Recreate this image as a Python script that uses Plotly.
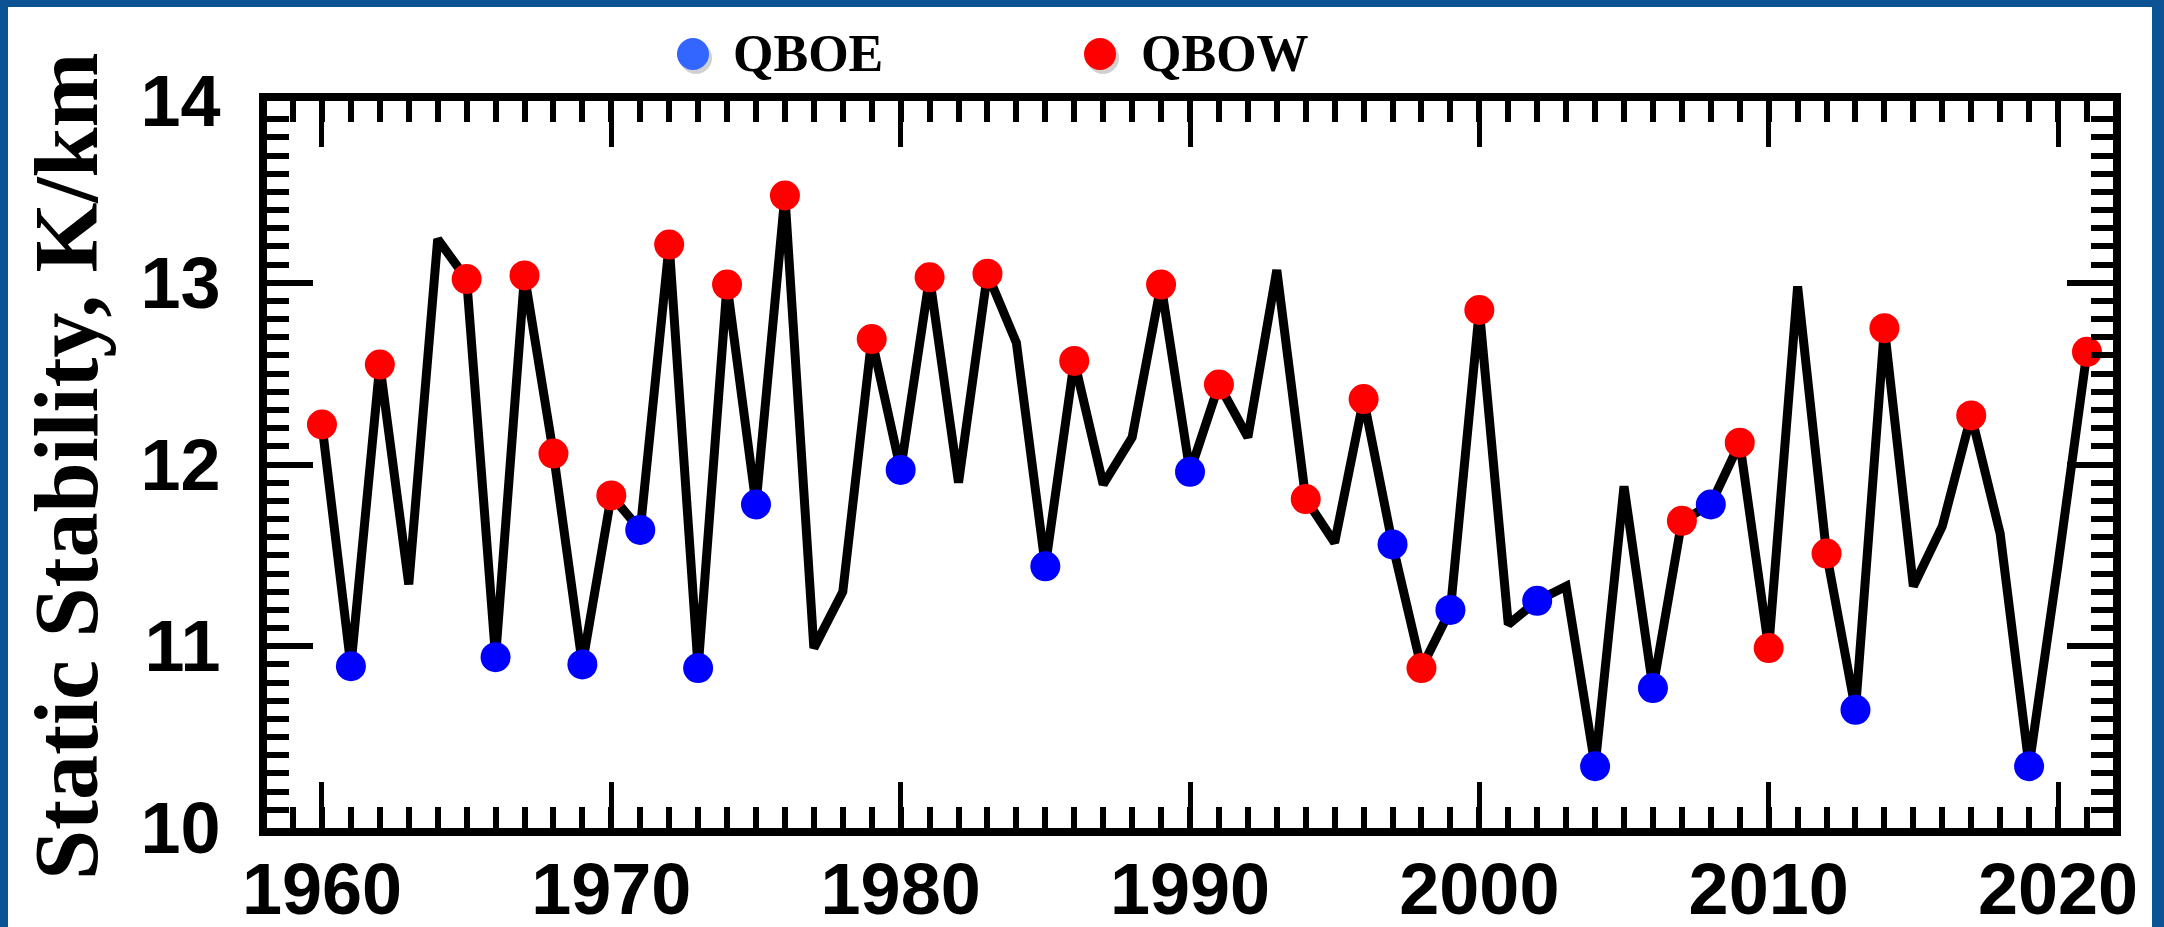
import plotly.graph_objects as go

years = [1960, 1961, 1962, 1963, 1964, 1965, 1966, 1967, 1968, 1969,
         1970, 1971, 1972, 1973, 1974, 1975, 1976, 1977, 1978, 1979,
         1980, 1981, 1982, 1983, 1984, 1985, 1986, 1987, 1988, 1989,
         1990, 1991, 1992, 1993, 1994, 1995, 1996, 1997, 1998, 1999,
         2000, 2001, 2002, 2003, 2004, 2005, 2006, 2007, 2008, 2009,
         2010, 2011, 2012, 2013, 2014, 2015, 2016, 2017, 2018, 2019,
         2020, 2021]

stability = [12.22, 10.89, 12.55, 11.34, 13.24, 13.02, 10.94, 13.04, 12.06, 10.90,
             11.83, 11.64, 13.21, 10.88, 12.99, 11.78, 13.48, 10.99, 11.30, 12.69,
             11.97, 13.03, 11.90, 13.05, 12.67, 11.44, 12.57, 11.89, 12.15, 12.99,
             11.96, 12.44, 12.15, 13.07, 11.81, 11.57, 12.36, 11.56, 10.88, 11.20,
             12.85, 11.12, 11.25, 11.33, 10.34, 11.88, 10.77, 11.69, 11.78, 12.12,
             10.99, 12.98, 11.51, 10.65, 12.75, 11.33, 11.66, 12.27, 11.62, 10.34,
             11.45, 12.62]

# QBO phase per year: "W" = westerly (QBOW), "E" = easterly (QBOE), "" = neutral
phase = ["W", "E", "W", "", "", "W", "E", "W", "W", "E",
         "W", "E", "W", "E", "W", "E", "W", "", "", "W",
         "E", "W", "", "W", "", "E", "W", "", "", "W",
         "E", "W", "", "", "W", "", "W", "E", "W", "E",
         "W", "", "E", "", "E", "", "E", "W", "E", "W",
         "W", "", "W", "E", "W", "", "", "W", "", "E",
         "", "W"]

legend_labels = ["QBOE", "QBOW"]
x_ticks = [1960, 1970, 1980, 1990, 2000, 2010, 2020]
y_ticks = [10, 11, 12, 13, 14]

W, H = 2164, 927
L, R, T, B = 267, 51, 101, 99
PW, PH = W - L - R, H - T - B

def px_x(px):
    return (px - L) / PW

def px_y(py):
    return (H - B - py) / PH

e_x = [y for y, p in zip(years, phase) if p == "E"]
e_v = [v for v, p in zip(stability, phase) if p == "E"]
w_x = [y for y, p in zip(years, phase) if p == "W"]
w_v = [v for v, p in zip(stability, phase) if p == "W"]

fig = go.Figure()
fig.add_trace(go.Scatter(x=years, y=stability, mode="lines",
                         line=dict(color="black", width=9),
                         showlegend=False, hoverinfo="skip"))
fig.add_trace(go.Scatter(x=e_x, y=e_v, mode="markers", name=legend_labels[0],
                         marker=dict(color="#0000ff", size=30, line=dict(width=0)),
                         showlegend=False))
fig.add_trace(go.Scatter(x=w_x, y=w_v, mode="markers", name=legend_labels[1],
                         marker=dict(color="#ff0000", size=30, line=dict(width=0)),
                         showlegend=False))

tickfont = dict(family="Liberation Sans, Arial, sans-serif", size=72, color="black", weight="bold")

fig.update_xaxes(range=[1958.1, 2021.9], showgrid=False, zeroline=False, automargin=False,
                 showline=True, linecolor="black", linewidth=8, mirror="allticks",
                 ticks="inside", ticklen=46, tickwidth=5, tickcolor="black",
                 tickvals=x_ticks, ticktext=[str(v) for v in x_ticks],
                 tickfont=tickfont, ticklabelstandoff=-8,
                 minor=dict(ticks="inside", ticklen=21, tickwidth=6, tickcolor="black",
                            dtick=1, tick0=1960, showgrid=False))
fig.update_yaxes(range=[10, 14], showgrid=False, zeroline=False, automargin=False,
                 showline=True, linecolor="black", linewidth=8, mirror="allticks",
                 ticks="inside", ticklen=46, tickwidth=6, tickcolor="black",
                 tickvals=y_ticks, ticktext=[str(v) for v in y_ticks],
                 tickfont=tickfont, ticklabelstandoff=24,
                 minor=dict(ticks="inside", ticklen=22, tickwidth=6, tickcolor="black",
                            dtick=0.1, tick0=10, showgrid=False))

border = "#0b5394"
band = dict(type="rect", xref="paper", yref="paper", layer="above", line=dict(width=0))
shapes = [
    # keep the very bottom strip white
    dict(band, fillcolor="white", x0=px_x(-5), x1=px_x(W + 5),
         y0=px_y(H + 20), y1=px_y(H - 5)),
    dict(band, fillcolor=border, x0=px_x(-5), x1=px_x(8), y0=px_y(H + 5), y1=px_y(-5)),
    dict(band, fillcolor=border, x0=px_x(2152), x1=px_x(W + 5), y0=px_y(H + 5), y1=px_y(-5)),
    dict(band, fillcolor=border, x0=px_x(-5), x1=px_x(W + 5), y0=px_y(7), y1=px_y(-5)),
]
# legend symbols with soft shadow
for cx, col in [(693, "#3366ff"), (1100, "#ff0000")]:
    shapes.append(dict(type="circle", xref="paper", yref="paper", xsizemode="pixel", ysizemode="pixel",
                       xanchor=px_x(cx + 3), yanchor=px_y(58), x0=-16, x1=16, y0=-16, y1=16,
                       fillcolor="rgba(120,120,120,0.35)", line=dict(width=0)))
    shapes.append(dict(type="circle", xref="paper", yref="paper", xsizemode="pixel", ysizemode="pixel",
                       xanchor=px_x(cx), yanchor=px_y(54), x0=-16, x1=16, y0=-16, y1=16,
                       fillcolor=col, line=dict(width=0)))

serif = "Liberation Serif, Times New Roman, serif"
annotations = [
    dict(text="Static Stability, K/km", xref="paper", yref="paper",
         x=px_x(67), y=px_y(466), xanchor="center", yanchor="middle", textangle=-90,
         showarrow=False, font=dict(family=serif, size=90, color="black", weight="bold")),
    dict(text=legend_labels[0], xref="paper", yref="paper", x=px_x(731), y=px_y(54),
         xanchor="left", yanchor="middle", showarrow=False,
         font=dict(family=serif, size=52, color="black", weight="bold")),
    dict(text=legend_labels[1], xref="paper", yref="paper", x=px_x(1139), y=px_y(54),
         xanchor="left", yanchor="middle", showarrow=False,
         font=dict(family=serif, size=52, color="black", weight="bold")),
]

fig.update_layout(width=W, height=H, margin=dict(l=L, r=R, t=T, b=B, autoexpand=False),
                  paper_bgcolor="white", plot_bgcolor="white",
                  shapes=shapes, annotations=annotations, showlegend=False)

fig.write_html("out.html", config={"displayModeBar": False},
               post_script="document.documentElement.style.background='white';"
                           "document.body.style.background='white';"
                           "document.body.style.margin='0px';document.body.style.overflow='hidden';")
